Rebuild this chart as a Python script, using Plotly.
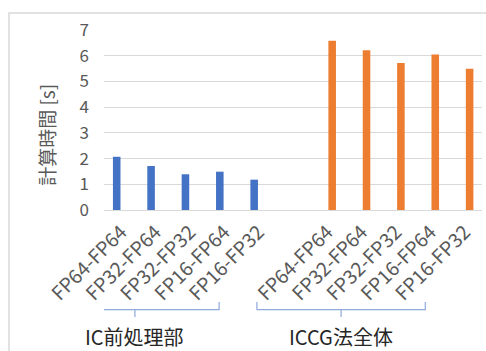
import plotly.graph_objects as go

# Precision combinations (preconditioner - solver)
labels = ["FP64-FP64", "FP32-FP64", "FP32-FP32", "FP16-FP64", "FP16-FP32"]

# Computation time [s]
ic_setup_times = [2.07, 1.71, 1.39, 1.49, 1.18]      # IC前処理部
iccg_total_times = [6.58, 6.21, 5.72, 6.05, 5.49]    # ICCG法全体

group_names = ["IC前処理部", "ICCG法全体"]
y_title = "計算時間 [s]"

# x positions: first group 0..4, one blank slot, second group 6..10
x_ic = list(range(len(labels)))
x_iccg = [len(labels) + 1 + i for i in range(len(labels))]

FONT = "Noto Sans CJK JP"
GRAY = "#595959"
BAR_W = 0.22

fig = go.Figure()
# Each series sits in its own half of a two-slot cluster
fig.add_trace(go.Bar(x=x_ic, y=ic_setup_times, marker_color="#4472c4",
                     marker_line_width=0, width=BAR_W, offset=-0.13 - BAR_W / 2,
                     name=group_names[0]))
fig.add_trace(go.Bar(x=x_iccg, y=iccg_total_times, marker_color="#ed7d31",
                     marker_line_width=0, width=BAR_W, offset=0.14 - BAR_W / 2,
                     name=group_names[1]))

shapes = []
annotations = []

# Outer chart frame
shapes.append(dict(type="rect", xref="paper", yref="paper",
                   x0=-0.2513, x1=1.05, y0=-0.9, y1=1.094,
                   line=dict(color="#d9d9d9", width=1.5), layer="below"))

# Group brackets under the rotated tick labels
y_top, y_mid, y_bot = -0.511, -0.553, -0.594
for xs, name in [(x_ic, group_names[0]), (x_iccg, group_names[1])]:
    left = xs[0] - 2.05
    right = xs[-1] - 1.15
    center = (left + right) / 2
    path = (f"M {left},{y_top} L {left},{y_mid} L {right},{y_mid} L {right},{y_top} "
            f"M {center},{y_mid} L {center},{y_bot}")
    shapes.append(dict(type="path", xref="x", yref="paper", path=path,
                       line=dict(color="#8faadc", width=1.2)))
    annotations.append(dict(x=center, y=-0.70, xref="x", yref="paper",
                            text=name, showarrow=False,
                            font=dict(family=FONT, size=20, color="#262626"),
                            xanchor="center", yanchor="middle"))

# Y axis title
annotations.append(dict(x=-0.151, y=0.417, xref="paper", yref="paper",
                        text=y_title, textangle=-90, showarrow=False,
                        font=dict(family=FONT, size=19, color=GRAY),
                        xanchor="center", yanchor="middle"))

fig.update_layout(
    width=486, height=351,
    margin=dict(l=104, r=4, t=30, b=141),
    paper_bgcolor="white", plot_bgcolor="white",
    barmode="overlay",
    showlegend=False,
    font=dict(family=FONT, color=GRAY),
    shapes=shapes, annotations=annotations,
)

fig.update_xaxes(
    range=[-0.5, x_iccg[-1] + 0.5],
    tickmode="array", tickvals=x_ic + x_iccg, ticktext=labels + labels,
    tickangle=-45, tickfont=dict(family=FONT, size=19.5, color=GRAY),
    showgrid=False, zeroline=False, showline=False, ticks="",
    ticklabelstandoff=6,
)
fig.update_yaxes(
    range=[0, 7], dtick=1,
    tickfont=dict(family=FONT, size=17, color=GRAY),
    showgrid=True, gridcolor="#d9d9d9", gridwidth=1.3,
    zeroline=True, zerolinecolor="#d9d9d9", zerolinewidth=1.3,
    showline=False, ticks="", ticklabelstandoff=14,
)

fig.write_html("out.html")
